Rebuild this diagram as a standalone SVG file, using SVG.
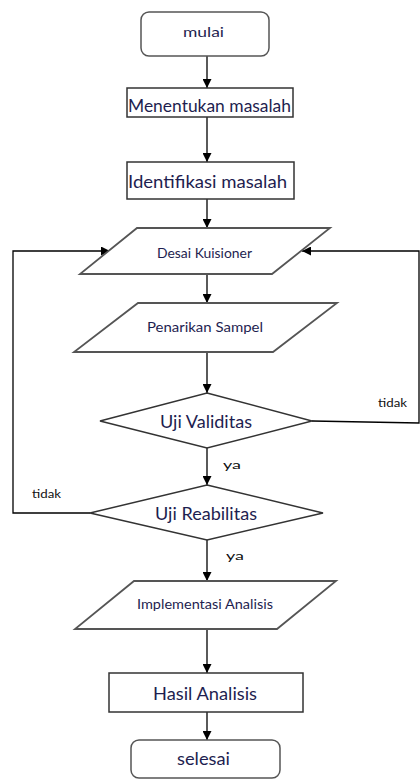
<svg xmlns="http://www.w3.org/2000/svg" width="420" height="782" viewBox="0 0 420 782">
<style>
.shape{fill:#fff;stroke:#333;stroke-width:1.5}
.term{fill:#fff;stroke:#555;stroke-width:1.5}
.para{fill:#fff;stroke:#555;stroke-width:1.8}
.conn{fill:none;stroke:#000;stroke-width:1.3}
text{font-family:Lato,"Liberation Sans",sans-serif;fill:#1e1e50;dominant-baseline:central}
.big{font-size:18px;text-anchor:middle}
.mid{font-size:17px;text-anchor:middle}
.small{font-size:14px;text-anchor:middle}
.lbl{font-size:11px;fill:#111}
</style>
<defs>
<marker id="ah" viewBox="0 0 10 10" refX="10" refY="5" markerWidth="9" markerHeight="9" markerUnits="userSpaceOnUse" orient="auto">
<path d="M0,0 L10,5 L0,10 z" fill="#000"/>
</marker>
</defs>
<rect width="420" height="782" fill="#fff"/>
<g id="connectors">
<line class="conn" x1="207" y1="56" x2="207" y2="88" marker-end="url(#ah)"/>
<line class="conn" x1="207" y1="117" x2="207" y2="162" marker-end="url(#ah)"/>
<line class="conn" x1="207" y1="199" x2="207" y2="228" marker-end="url(#ah)"/>
<line class="conn" x1="207" y1="274" x2="207" y2="303" marker-end="url(#ah)"/>
<line class="conn" x1="207" y1="352" x2="207" y2="393" marker-end="url(#ah)"/>
<line class="conn" x1="207" y1="448" x2="207" y2="485" marker-end="url(#ah)"/>
<line class="conn" x1="207" y1="540" x2="207" y2="581" marker-end="url(#ah)"/>
<line class="conn" x1="207" y1="629" x2="207" y2="673" marker-end="url(#ah)"/>
<line class="conn" x1="207" y1="712" x2="207" y2="740" marker-end="url(#ah)"/>
<polyline class="conn" points="312,421 419,423 419,251 302,251" marker-end="url(#ah)"/>
<polyline class="conn" points="90,513 13,513 13,251 110,251" marker-end="url(#ah)"/>
<text class="lbl" x="378" y="402" textLength="29" lengthAdjust="spacingAndGlyphs">tidak</text>
<text class="lbl" x="223" y="464" textLength="18" lengthAdjust="spacingAndGlyphs">ya</text>
<text class="lbl" x="32" y="493" textLength="29" lengthAdjust="spacingAndGlyphs">tidak</text>
<text class="lbl" x="226" y="555" textLength="18" lengthAdjust="spacingAndGlyphs">ya</text>
</g>
<g id="mulai">
<rect class="term" x="141" y="12" width="128" height="44" rx="8"/>
<text class="small" x="203.5" y="31" textLength="41" lengthAdjust="spacingAndGlyphs">mulai</text>
</g>
<g id="menentukan">
<rect class="shape" x="127" y="88" width="166" height="29"/>
<text class="big" x="209.5" y="105" textLength="163" lengthAdjust="spacingAndGlyphs">Menentukan masalah</text>
</g>
<g id="identifikasi">
<rect class="shape" x="127" y="162" width="167" height="37"/>
<text class="big" x="207.5" y="181" textLength="159" lengthAdjust="spacingAndGlyphs">Identifikasi masalah</text>
</g>
<g id="desai">
<polygon class="para" points="137,228 330,228 272,274 80,274"/>
<text class="small" x="204.5" y="252" textLength="95" lengthAdjust="spacingAndGlyphs">Desai Kuisioner</text>
</g>
<g id="penarikan">
<polygon class="para" points="138,303 337,303 273,352 74,352"/>
<text class="small" x="205" y="326" textLength="116" lengthAdjust="spacingAndGlyphs">Penarikan Sampel</text>
</g>
<g id="validitas">
<polygon class="shape" points="207,393 312,421 207,448 100,421"/>
<text class="big" x="206" y="421" textLength="92" lengthAdjust="spacingAndGlyphs">Uji Validitas</text>
</g>
<g id="reabilitas">
<polygon class="shape" points="207,485 323,513 207,540 90,513"/>
<text class="big" x="206" y="513" textLength="102" lengthAdjust="spacingAndGlyphs">Uji Reabilitas</text>
</g>
<g id="implementasi">
<polygon class="para" points="134,581 336,581 277,629 75,629"/>
<text class="small" x="205" y="603" textLength="136" lengthAdjust="spacingAndGlyphs">Implementasi Analisis</text>
</g>
<g id="hasil">
<rect class="shape" x="109" y="673" width="194" height="39"/>
<text class="big" x="205" y="693" textLength="104" lengthAdjust="spacingAndGlyphs">Hasil Analisis</text>
</g>
<g id="selesai">
<rect class="term" x="131" y="740" width="149" height="38" rx="8"/>
<text class="mid" x="203.5" y="758" textLength="53" lengthAdjust="spacingAndGlyphs">selesai</text>
</g>
</svg>
